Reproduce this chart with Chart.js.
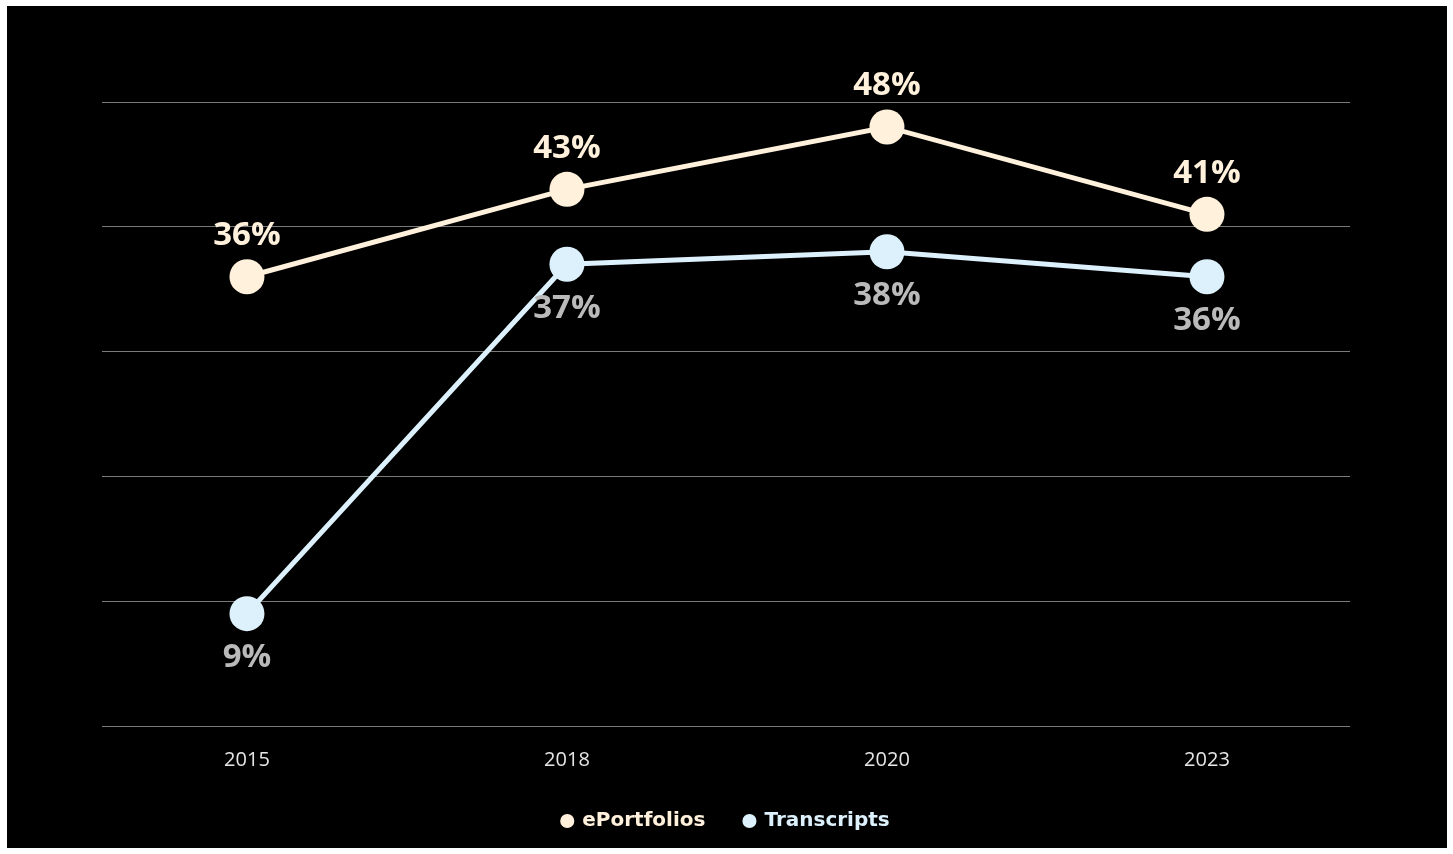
<!DOCTYPE html>
<html>
<head>
<meta charset="utf-8">
<script src="https://cdn.jsdelivr.net/npm/chart.js@4.4.1/dist/chart.umd.min.js"></script>
<style>
  html, body { margin: 0; padding: 0; background: #ffffff; }
  #wrap { position: absolute; left: 7px; top: 6px; width: 1440px; height: 842px; background: #000000; }
</style>
</head>
<body>
<div id="wrap"><canvas id="grafikon" width="1440" height="842"></canvas></div>
<script>
const godine = ['2015', '2018', '2020', '2023'];
const ePortfolios = [36, 43, 48, 41];
const transcripts = [9, 37, 38, 36];
const yTicks = [0, 10, 20, 30, 40, 50];

const bojaKrem = '#FFF1DC';
const bojaPlava = '#DCF1FC';
const font = "'Open Sans', sans-serif";
const fontLegenda = "'DejaVu Sans', sans-serif";

// pretvori niz vrijednosti u {x, y} tocke za linearnu x os
function tocke(niz) {
    return niz.map((v, i) => ({ x: i, y: v }));
}

// postoci iznad/ispod tocaka
const oznakePlugin = {
    id: 'oznake',
    afterDatasetsDraw(chart) {
        const ctx = chart.ctx;
        chart.data.datasets.forEach((ds, di) => {
            const meta = chart.getDatasetMeta(di);
            ctx.save();
            ctx.font = "bold 33px " + font;
            ctx.fillStyle = ds.oznakaBoja;
            ctx.textAlign = 'center';
            ctx.textBaseline = 'middle';
            meta.data.forEach((p, i) => {
                const pomak = ds.oznakaIspod ? 44 : -41;
                ctx.fillText(ds.data[i].y + '%', p.x, p.y + pomak);
            });
            ctx.restore();
        });
    }
};

const ctx = document.getElementById('grafikon').getContext('2d');
new Chart(ctx, {
    type: 'line',
    data: {
        datasets: [{
            label: 'ePortfolios',
            data: tocke(ePortfolios),
            borderColor: bojaKrem,
            backgroundColor: bojaKrem,
            borderWidth: 5,
            pointRadius: 17.5,
            pointBorderWidth: 0,
            oznakaBoja: bojaKrem,
            oznakaIspod: false
        }, {
            label: 'Transcripts',
            data: tocke(transcripts),
            borderColor: bojaPlava,
            backgroundColor: bojaPlava,
            borderWidth: 5,
            pointRadius: 17.5,
            pointBorderWidth: 0,
            oznakaBoja: '#BABABA',
            oznakaIspod: true
        }]
    },
    options: {
        responsive: false,
        animation: false,
        layout: { padding: { left: 95, right: 97, top: 96, bottom: 7 } },
        scales: {
            x: {
                type: 'linear',
                min: -0.453,
                max: 3.447,
                afterBuildTicks: (os) => { os.ticks = godine.map((g, i) => ({ value: i })); },
                afterFit: (os) => { os.height = 46; },
                grid: { display: false, drawTicks: false },
                border: { display: false },
                ticks: {
                    color: '#E6E6E6',
                    font: { family: font, size: 20 },
                    padding: 22,
                    callback: (v) => godine[v]
                }
            },
            y: {
                min: 0,
                max: 50,
                afterBuildTicks: (os) => { os.ticks = yTicks.map(v => ({ value: v })); },
                grid: { color: '#7A7A7A', lineWidth: 1, drawTicks: false },
                border: { display: false },
                ticks: { display: false }
            }
        },
        plugins: {
            tooltip: { enabled: false },
            legend: {
                position: 'bottom',
                labels: {
                    usePointStyle: true,
                    pointStyle: 'circle',
                    boxWidth: 10,
                    boxHeight: 10,
                    padding: 39,
                    font: { family: fontLegenda, size: 20, weight: 'bold' },
                    generateLabels: (chart) => chart.data.datasets.map((ds, i) => ({
                        text: ds.label,
                        fillStyle: ds.borderColor,
                        strokeStyle: ds.borderColor,
                        lineWidth: 0,
                        pointStyle: 'circle',
                        fontColor: ds.borderColor,
                        datasetIndex: i
                    }))
                }
            }
        }
    },
    plugins: [oznakePlugin]
});
</script>
</body>
</html>
